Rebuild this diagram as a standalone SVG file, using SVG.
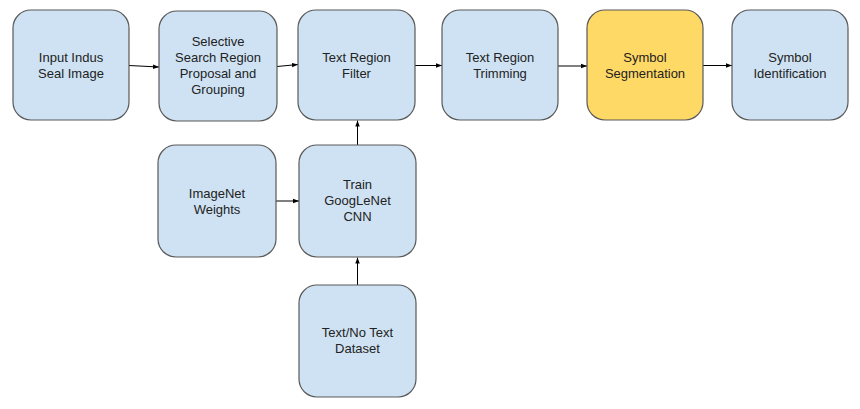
<svg xmlns="http://www.w3.org/2000/svg" width="860" height="409" viewBox="0 0 860 409">
<style>
.n rect{fill:#cfe2f3;stroke:#595959;stroke-width:1.2}
.n.y rect{fill:#ffd966}
.n text{font-family:"Liberation Sans",Arial,sans-serif;font-size:13px;fill:#222;text-anchor:middle}
.c path{stroke:#000;stroke-width:1;fill:none;marker-end:url(#a)}
</style>
<defs>
<marker id="a" viewBox="0 0 8 8" refX="8" refY="4" markerWidth="6" markerHeight="6" orient="auto" markerUnits="userSpaceOnUse">
<path d="M0,1 L8,4 L0,7 z" fill="#000"/>
</marker>
</defs>
<rect width="860" height="409" fill="#fff"/>
<g class="c">
<path d="M129,65.5 L159,67"/>
<path d="M277,66.5 L298,64.5"/>
<path d="M415,65.5 L442,65.5"/>
<path d="M558,66 L587,66"/>
<path d="M703,65.5 L732,65.5"/>
<path d="M276,201 L299,201"/>
<path d="M357.5,145 L357.5,120.5"/>
<path d="M357.5,285 L357.5,257.5"/>
</g>
<g id="n1" class="n"><rect x="13" y="10" width="116" height="110" rx="18"/><text x="71" y="62">Input Indus</text><text x="71" y="78">Seal Image</text></g>
<g id="n2" class="n"><rect x="159" y="11" width="118" height="110" rx="18"/><text x="218" y="46">Selective</text><text x="218" y="62">Search Region</text><text x="218" y="78">Proposal and</text><text x="218" y="94">Grouping</text></g>
<g id="n3" class="n"><rect x="298" y="10" width="117" height="110" rx="18"/><text x="356.5" y="62">Text Region</text><text x="356.5" y="78">Filter</text></g>
<g id="n4" class="n"><rect x="442" y="10" width="116" height="110" rx="18"/><text x="500" y="62">Text Region</text><text x="500" y="78">Trimming</text></g>
<g id="n5" class="n y"><rect x="587" y="10" width="116" height="110" rx="18"/><text x="645" y="62">Symbol</text><text x="645" y="78">Segmentation</text></g>
<g id="n6" class="n"><rect x="732" y="10" width="116" height="110" rx="18"/><text x="790" y="62">Symbol</text><text x="790" y="78">Identification</text></g>
<g id="n7" class="n"><rect x="158" y="145" width="118" height="112" rx="18"/><text x="217" y="198">ImageNet</text><text x="217" y="214">Weights</text></g>
<g id="n8" class="n"><rect x="299" y="145" width="117" height="112" rx="18"/><text x="357.5" y="189">Train</text><text x="357.5" y="205">GoogLeNet</text><text x="357.5" y="221">CNN</text></g>
<g id="n9" class="n"><rect x="299" y="285" width="117" height="112" rx="18"/><text x="357.5" y="337">Text/No Text</text><text x="357.5" y="353">Dataset</text></g>
</svg>
